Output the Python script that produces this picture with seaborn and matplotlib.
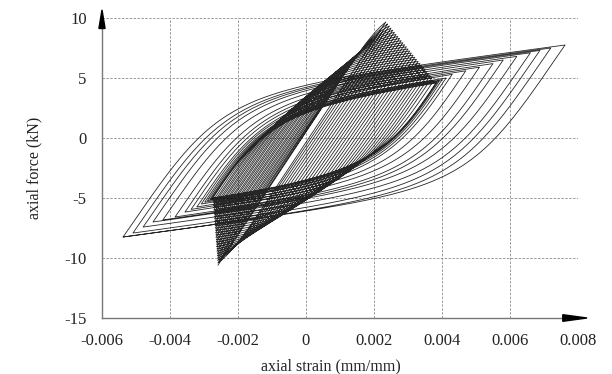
import numpy as np
import pandas as pd
import matplotlib
matplotlib.use("Agg")
import matplotlib.pyplot as plt
import seaborn as sns
from matplotlib.patches import Polygon

# ---- data ----
elastic_slope = 4100.0        # kN per unit strain (steep straight segments)
hardening_ratio = 0.09        # slope of the flat part / elastic slope
roundness_stage1 = [14.0, 2.0]   # first cycle -> last cycle of stage 1
roundness_stage2 = [2.0, 3.0]    # innermost -> outermost loop of stage 2

# stage 1: cycles with degrading peak force
peak_t_strain = [0.00235, 0.00240, 0.00245, 0.00250, 0.00255, 0.00260, 0.00265, 0.00270, 0.00275, 0.00280,
                 0.00285, 0.00290, 0.00295, 0.00300, 0.00305, 0.00310, 0.00315, 0.00320, 0.00325, 0.00330,
                 0.00335, 0.00340, 0.00345, 0.00350, 0.00355, 0.00360, 0.00365, 0.00370, 0.00376, 0.00382]
peak_t_force = [9.67, 9.50, 9.33, 9.15, 8.98, 8.81, 8.63, 8.46, 8.29, 8.11,
                7.94, 7.77, 7.60, 7.42, 7.25, 7.08, 6.90, 6.73, 6.56, 6.38,
                6.21, 6.04, 5.86, 5.69, 5.52, 5.34, 5.17, 5.00, 4.79, 4.58]
peak_c_strain = [-0.00259, -0.00259, -0.00260, -0.00260, -0.00261, -0.00261, -0.00262, -0.00262, -0.00263, -0.00263,
                 -0.00264, -0.00264, -0.00265, -0.00265, -0.00266, -0.00266, -0.00267, -0.00267, -0.00268, -0.00268,
                 -0.00269, -0.00269, -0.00270, -0.00270, -0.00271, -0.00271, -0.00272, -0.00272, -0.00273, -0.00274]
peak_c_force = [-10.60, -10.41, -10.21, -10.02, -9.83, -9.63, -9.44, -9.25, -9.06, -8.86,
                -8.67, -8.48, -8.28, -8.09, -7.90, -7.70, -7.51, -7.32, -7.12, -6.93,
                -6.74, -6.54, -6.35, -6.16, -5.97, -5.77, -5.58, -5.39, -5.19, -5.00]

# stage 2: growing loops
left_tip_strain = [-0.00278, -0.00283, -0.00290, -0.00298, -0.00308, -0.00321, -0.00338, -0.00356,
                   -0.00385, -0.00421, -0.00450, -0.00479, -0.00509, -0.00538]
left_tip_force = [-5.05, -5.12, -5.22, -5.35, -5.5, -5.75, -5.95, -6.17,
                  -6.58, -6.83, -7.0, -7.42, -7.92, -8.25]
right_tip_strain = [0.00386, 0.00392, 0.00400, 0.00412, 0.00430, 0.00470, 0.00510, 0.00550,
                    0.00580, 0.00620, 0.00660, 0.00688, 0.00720, 0.00762]
right_tip_force = [4.65, 4.75, 4.85, 5.0, 5.3, 5.6, 5.9, 6.2,
                   6.5, 6.8, 7.1, 7.3, 7.5, 7.75]

x_ticks = [-0.006, -0.004, -0.002, 0, 0.002, 0.004, 0.006, 0.008]
x_tick_labels = ["-0.006", "-0.004", "-0.002", "0", "0.002", "0.004", "0.006", "0.008"]
y_ticks = [-15, -10, -5, 0, 5, 10]
y_tick_labels = ["-15", "-10", "-5", "0", "5", "10"]

# ---- build the load path (branches between the tips read above) ----
NPTS = 120


def branch(start, end, R):
    er, fr = start
    et, ft = end
    E = elastic_slope
    b = hardening_ratio
    e0 = (ft - fr + E * er - b * E * et) / (E * (1 - b))
    f0 = fr + E * (e0 - er)
    e = np.linspace(er, et, NPTS)
    xs = (e - er) / (e0 - er)
    ss = b * xs + (1 - b) * xs / (1 + np.abs(xs) ** R) ** (1 / R)
    f = fr + ss * (f0 - fr)
    f = fr + (f - fr) * (ft - fr) / (f[-1] - fr)
    return e, f


E_list, F_list = [], []
nB = len(peak_t_force)
for i in range(nB):
    w = (peak_t_force[0] - peak_t_force[i]) / (peak_t_force[0] - peak_t_force[-1])
    R = roundness_stage1[0] + (roundness_stage1[1] - roundness_stage1[0]) * w
    q = (peak_c_strain[i], peak_c_force[i])
    p = (peak_t_strain[i], peak_t_force[i])
    e, f = branch(q, p, R); E_list.append(e); F_list.append(f)
    q2 = (peak_c_strain[i + 1], peak_c_force[i + 1]) if i + 1 < nB else (left_tip_strain[0], left_tip_force[0])
    e, f = branch(p, q2, R); E_list.append(e); F_list.append(f)

span0 = peak_t_strain[-1] - peak_c_strain[-1]
spanN = right_tip_strain[-1] - left_tip_strain[-1]
nA = len(left_tip_force)
for j in range(nA):
    span = right_tip_strain[j] - left_tip_strain[j]
    w = (span - span0) / (spanN - span0)
    R = roundness_stage2[0] + (roundness_stage2[1] - roundness_stage2[0]) * w
    l = (left_tip_strain[j], left_tip_force[j])
    r = (right_tip_strain[j], right_tip_force[j])
    e, f = branch(l, r, R); E_list.append(e); F_list.append(f)
    l2 = (left_tip_strain[j + 1], left_tip_force[j + 1]) if j + 1 < nA else l
    e, f = branch(r, l2, R); E_list.append(e); F_list.append(f)

df = pd.DataFrame({"strain": np.concatenate(E_list), "force": np.concatenate(F_list)})

# ---- plot ----
sns.set_style("white")
plt.rcParams["font.family"] = ["Liberation Serif", "DejaVu Serif"]
plt.rcParams["axes.unicode_minus"] = False

fig = plt.figure(figsize=(6.12, 3.74), dpi=100)
ax = fig.add_axes([102 / 612, 1 - 318 / 374, 476 / 612, 300 / 374])

sns.lineplot(data=df, x="strain", y="force", sort=False, estimator=None,
             color="black", linewidth=0.6, alpha=0.85, ax=ax)

ax.set_xlim(-0.006, 0.008)
ax.set_ylim(-15, 10)
ax.set_xticks(x_ticks)
ax.set_xticklabels(x_tick_labels)
ax.set_yticks(y_ticks)
ax.set_yticklabels(y_tick_labels)
ax.grid(True, color="#9a9a9a", linestyle=(0, (2.5, 1.5)), linewidth=0.7)
ax.set_axisbelow(True)
for s in ["top", "right"]:
    ax.spines[s].set_visible(False)
for s in ["left", "bottom"]:
    ax.spines[s].set_color("#777777")
    ax.spines[s].set_linewidth(1.0)
ax.tick_params(axis="both", direction="out", length=3, width=0.8, color="#777777",
               labelsize=12, pad=8, labelcolor="#222222")

ax.set_xlabel("axial strain (mm/mm)", fontsize=11.5, color="#222222")
ax.set_ylabel("axial force (kN)", fontsize=11.5, color="#222222")
ax.xaxis.set_label_coords(0.48, -0.135)
ax.yaxis.set_label_coords(-0.125, 0.5)

# arrowheads on the axes
ya = Polygon([[0, 1.027], [-0.0065, 0.965], [0.0065, 0.965]], closed=True,
             transform=ax.transAxes, clip_on=False, color="black", zorder=5)
xa = Polygon([[1.019, 0], [0.968, 0.011], [0.968, -0.011]], closed=True,
             transform=ax.transAxes, clip_on=False, color="black", zorder=5)
ax.add_patch(ya)
ax.add_patch(xa)

fig.savefig("out.png", dpi=100)
